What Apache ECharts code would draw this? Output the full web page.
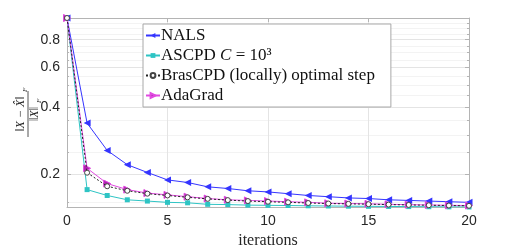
<!DOCTYPE html>
<html><head><meta charset="utf-8">
<script src="https://cdn.jsdelivr.net/npm/echarts@6/dist/echarts.min.js"></script>
<style>html,body{margin:0;padding:0;background:#fff}#c{width:518px;height:248px}</style>
</head><body><div id="c"></div>
<script>
const iterations = [0,1,2,3,4,5,6,7,8,9,10,11,12,13,14,15,16,17,18,19,20];
const nals    = [1.0,0.339,0.256,0.221,0.204,0.189,0.184,0.176,0.173,0.169,0.167,0.164,0.161,0.159,0.157,0.156,0.154,0.153,0.152,0.151,0.150];
const ascpd   = [1.0,0.171,0.161,0.154,0.152,0.150,0.1493,0.147,0.1466,0.1458,0.1455,0.1452,0.1448,0.1445,0.1442,0.144,0.1438,0.1436,0.1434,0.1432,0.143];
const bras    = [1.0,0.2035,0.177,0.169,0.164,0.161,0.158,0.1555,0.1535,0.152,0.151,0.150,0.149,0.1482,0.1477,0.1472,0.1466,0.1461,0.1456,0.1452,0.1448];
const adagrad = [1.0,0.213,0.182,0.171,0.165,0.162,0.159,0.156,0.154,0.153,0.152,0.151,0.150,0.1486,0.1482,0.1478,0.147,0.1465,0.146,0.1455,0.1452];
const seriesNames = ['NALS','ASCPD C = 10³','BrasCPD (locally) optimal step','AdaGrad'];
const xTicks = [0,5,10,15,20];
const yMajorTicks = [0.2,0.4,0.6,0.8];
const yMinorTicks = [0.15,0.25,0.3,0.35,0.45,0.5,0.55,0.65,0.7,0.75,0.85,0.9,0.95];
const yMin = 0.143, yMax = 1.0;

const AX = '#b4b4b4', TXT = '#262626';
const SANS = 'Liberation Sans', SERIF = 'Liberation Serif';
const pairs = a => iterations.map((x,i)=>[x,a[i]]);

function yAx(opts){
  return Object.assign({type:'log', logBase:10, min:yMin, max:yMax, position:'left',
    axisLine:{show:false}, axisTick:{show:false}, axisLabel:{show:false}, splitLine:{show:false}}, opts);
}

const chart = echarts.init(document.getElementById('c'), null, {renderer:'canvas'});
chart.setOption({
  animation:false,
  backgroundColor:'#fff',
  grid:{left:67, right:49, top:18, bottom:41, outerBoundsMode:'none', containLabel:false},
  xAxis:[
    {type:'value', min:0, max:20, interval:5, position:'bottom',
     axisLine:{show:true, lineStyle:{color:AX}},
     axisTick:{show:true, inside:true, length:4, lineStyle:{color:AX}, customValues:xTicks},
     axisLabel:{color:TXT, fontFamily:SANS, fontSize:14, margin:7, customValues:xTicks},
     splitLine:{show:true, lineStyle:{color:'#e4e4e4', width:1}},
     name:'iterations', nameLocation:'middle', nameGap:19,
     nameTextStyle:{color:TXT, fontFamily:SERIF, fontSize:16}},
    {type:'value', min:0, max:20, interval:5, position:'top',
     axisLine:{show:true, lineStyle:{color:AX}},
     axisTick:{show:true, inside:true, length:4, lineStyle:{color:AX}},
     axisLabel:{show:false}, splitLine:{show:false}}
  ],
  yAxis:[
    yAx({axisLine:{show:true, lineStyle:{color:AX}},
         axisTick:{show:true, inside:true, length:4, lineStyle:{color:AX}, customValues:yMajorTicks},
         axisLabel:{show:true, color:TXT, fontFamily:SANS, fontSize:14, margin:7, customValues:yMajorTicks, formatter:v=>String(+v.toFixed(2))},
         splitLine:{show:true, lineStyle:{color:'#e4e4e4'}}}),
    yAx({axisTick:{show:true, inside:true, length:2, lineStyle:{color:AX}, customValues:yMinorTicks},
         splitLine:{show:true, lineStyle:{color:'#f3f3f3'}}}),
    yAx({position:'right', axisLine:{show:true, lineStyle:{color:AX}},
         axisTick:{show:true, inside:true, length:4, lineStyle:{color:AX}, customValues:yMajorTicks}}),
    yAx({position:'right',
         axisTick:{show:true, inside:true, length:2, lineStyle:{color:AX}, customValues:yMinorTicks}})
  ],
  legend:{
    orient:'vertical', left:143, top:24,
    padding:[3,16,3,2], itemGap:3, itemWidth:14, itemHeight:6,
    backgroundColor:'#fff', borderColor:'#a8a8a8', borderWidth:1,
    textStyle:{color:'#111', fontFamily:SERIF, fontSize:17, padding:[0,0,0,-4],
      rich:{a:{fontFamily:SERIF, fontSize:17, color:'#111'}, i:{fontFamily:SERIF, fontSize:17, fontStyle:'italic', color:'#111'}}},
    formatter: n => n === seriesNames[1] ? '{a|ASCPD }{i|C}{a| = 10³}' : n,
    data: seriesNames
  },
  graphic:[{
    type:'group', x:28, y:114, rotation:Math.PI/2, silent:true,
    children:[
      {type:'text', x:0, y:-7, style:{text:'‖X − X̂‖', fill:TXT, font:'italic 12px "Liberation Serif"', align:'center', verticalAlign:'middle'}},
      {type:'text', x:22, y:-3, style:{text:'F', fill:TXT, font:'italic 7px "Liberation Serif"', align:'left', verticalAlign:'middle'}},
      {type:'line', shape:{x1:-23, y1:0, x2:23, y2:0}, style:{stroke:TXT, lineWidth:0.8}},
      {type:'text', x:0, y:7, style:{text:'‖X‖', fill:TXT, font:'italic 12px "Liberation Serif"', align:'center', verticalAlign:'middle'}},
      {type:'text', x:11, y:11, style:{text:'F', fill:TXT, font:'italic 7px "Liberation Serif"', align:'left', verticalAlign:'middle'}}
    ]
  }],
  series:[
    {name:seriesNames[0], type:'line', yAxisIndex:0, data:pairs(nals), symbol:'triangle', symbolRotate:90, symbolSize:7,
     lineStyle:{color:'#3535ff', width:1}, itemStyle:{color:'#3535ff'}, z:4},
    {name:seriesNames[1], type:'line', yAxisIndex:0, data:pairs(ascpd), symbol:'rect', symbolSize:5,
     lineStyle:{color:'#2ec4c4', width:1}, itemStyle:{color:'#2ec4c4'}, z:3},
    {name:seriesNames[2], type:'line', yAxisIndex:0, data:pairs(bras), symbol:'circle', symbolSize:5,
     lineStyle:{color:'#222', width:1, type:[2,2]}, itemStyle:{color:'#fff', borderColor:'#444', borderWidth:1}, z:5},
    {name:seriesNames[3], type:'line', yAxisIndex:0, data:pairs(adagrad), symbol:'triangle', symbolRotate:-90, symbolSize:7,
     lineStyle:{color:'#e04ae0', width:1}, itemStyle:{color:'#b020b0', borderColor:'#e04ae0', borderWidth:1}, z:4}
  ]
});
</script></body></html>
